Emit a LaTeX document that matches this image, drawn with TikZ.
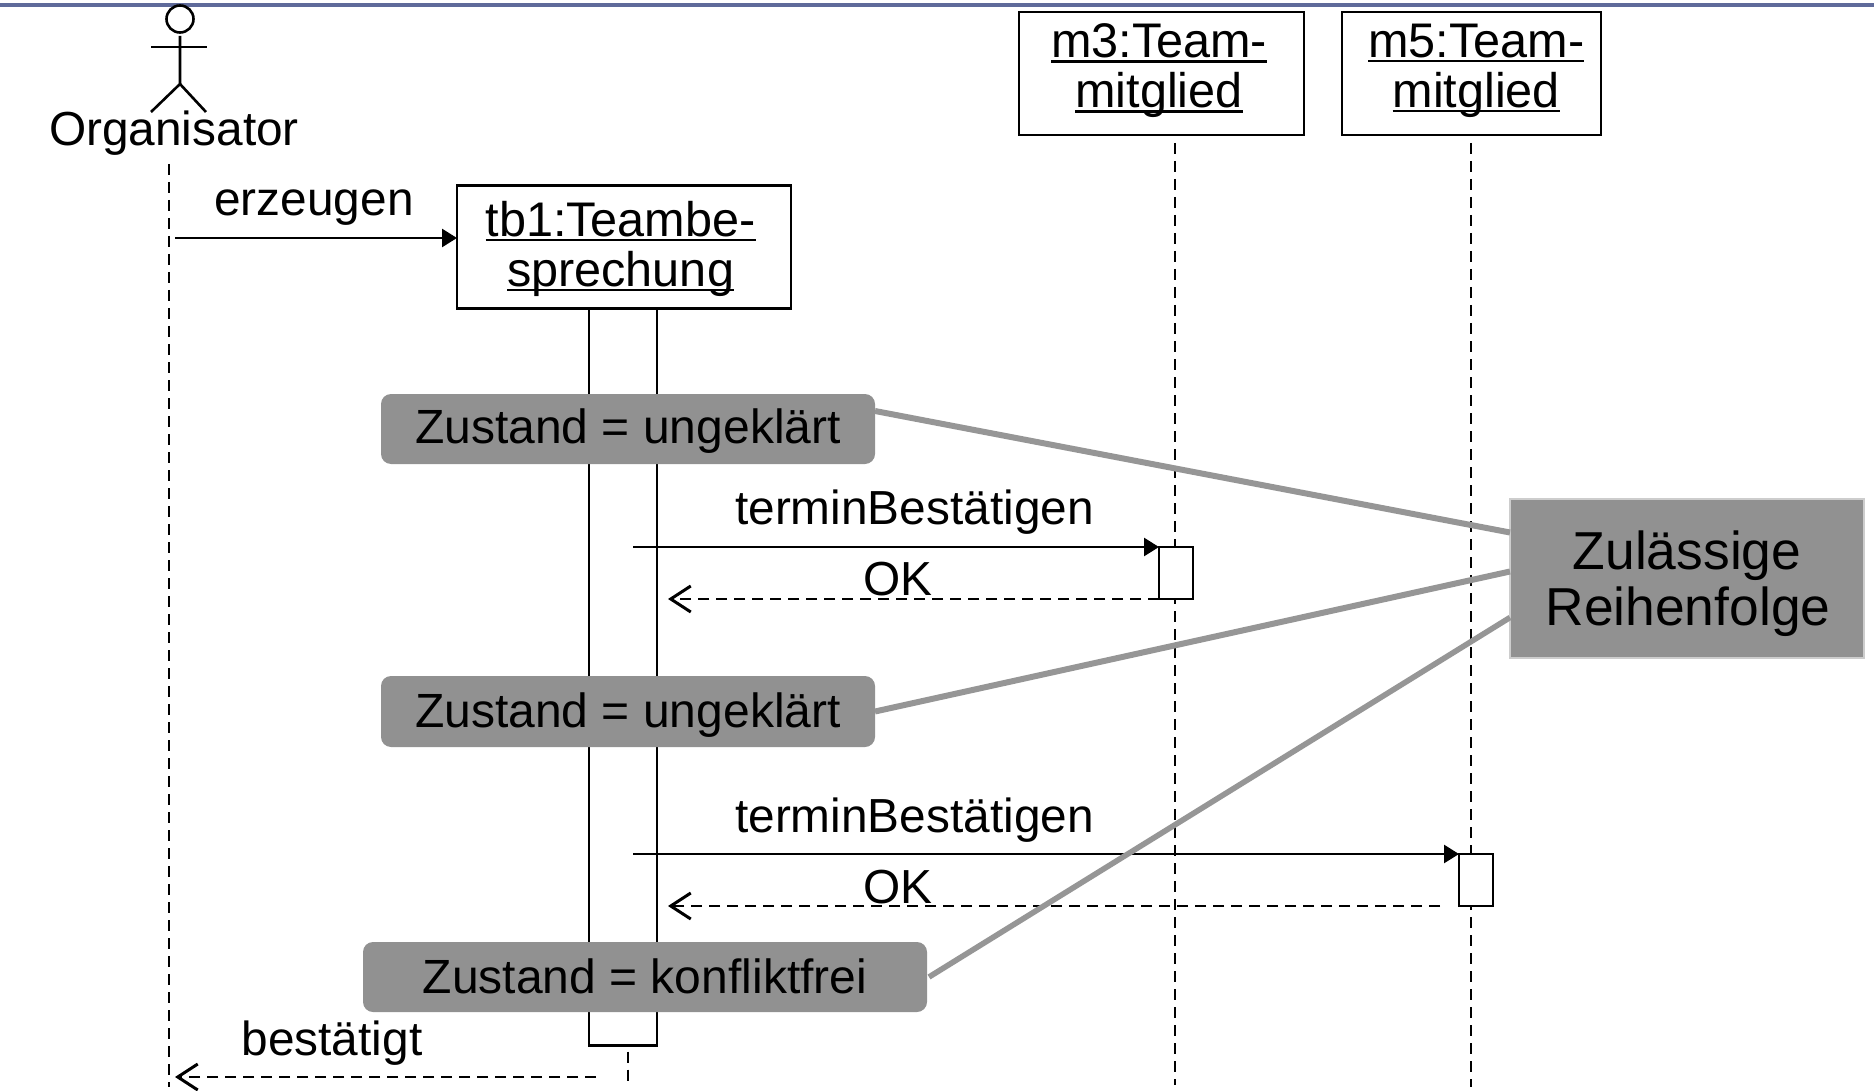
\documentclass[tikz,border=0pt]{standalone}
\usepackage{fontspec}
\setmainfont{Liberation Sans}
\usetikzlibrary{arrows.meta}
\definecolor{stategray}{HTML}{919191}
\definecolor{linkgray}{HTML}{969696}
\definecolor{edgegray}{HTML}{CDCDCD}
\definecolor{topbar}{HTML}{5F6A9A}
\newcommand{\objline}[1]{\setbox0\hbox{#1}\rlap{\rule[-2.3pt]{\wd0}{1.1pt}}\box0}
\tikzset{
    lbl/.style={inner sep=0pt,outer sep=0pt,anchor=base,font=\fontsize{23.9}{25}\selectfont},
    objbox/.style={draw,line width=1.2pt,fill=white,inner sep=0pt,outer sep=0pt,align=center,font=\fontsize{24.3}{25}\selectfont},
    bar/.style={draw,line width=1.2pt,fill=white,inner sep=0pt,outer sep=0pt},
    statebox/.style={fill=stategray,rounded corners=5pt,inner sep=0pt,outer sep=0pt,font=\fontsize{24}{25}\selectfont},
    life/.style={line width=1.2pt,dash pattern=on 5.5pt off 3.5pt},
    call/.style={line width=1.3pt,-{Triangle[length=7.5pt,width=9pt]}},
    answer/.style={line width=1.3pt,dash pattern=on 5.5pt off 3.5pt,-{Straight Barb[length=10pt,width=13pt,line width=1.5pt]}},
    link/.style={linkgray,line width=3pt}
}
\begin{document}
\begin{tikzpicture}[x=0.5pt,y=-0.5pt]
    \useasboundingbox (0,0) rectangle (1874,1091);
    \fill[topbar] (0,3.5) rectangle (1874,7.5);

    \draw[line width=1.3pt] (180,19) circle[radius=13.5];
    \draw[line width=1.3pt] (180,36) -- (180,84) -- (151,112);
    \draw[line width=1.3pt] (180,84) -- (206,112);
    \draw[line width=1.3pt] (151,47) -- (207,47);
    \node[lbl] (organisator) at (174,146) {Organisator};

    \node[objbox,minimum width=167pt,minimum height=61.5pt] (tb1) at (624,247) {\rule{0pt}{19.2pt}\objline{tb1:Teambe-}\hspace*{3.4pt}\\\objline{sprechung}\hspace*{3.4pt}};
    \node[objbox,minimum width=142.5pt,minimum height=61.5pt] (m3) at (1161.5,73.5) {\objline{m3:Team-}\hspace*{2.4pt}\\\rule[-7.5pt]{0pt}{1pt}\objline{mitglied}\hspace*{2.4pt}};
    \node[objbox,minimum width=129.5pt,minimum height=61.5pt] (m5) at (1471.5,73.5) {\hspace*{4.8pt}\objline{m5:Team-}\\\rule[-7.5pt]{0pt}{1pt}\hspace*{4.8pt}\objline{mitglied}};

    \coordinate (orgtop) at (169,164);
    \coordinate (orgend) at (169,1087);
    \coordinate (m3top) at (1175,143);
    \coordinate (m3end) at (1175,1085);
    \coordinate (m5top) at (1471,143);
    \coordinate (m5end) at (1471,1087);
    \coordinate (tb1end) at (628,1085);
    \draw[life] (orgtop) -- (orgend);
    \draw[life] (m3top) -- (m3end);
    \draw[life] (m5top) -- (m5end);

    \node[bar,minimum width=34pt,minimum height=368.5pt] (tb1bar) at (623,677) {};
    \node[bar,minimum width=17pt,minimum height=26pt] (m3bar) at (1176,573) {};
    \node[bar,minimum width=17pt,minimum height=26pt] (m5bar) at (1476,880) {};
    \draw[life,shorten <=3pt] (tb1bar.south -| tb1end) -- (tb1end);

    \coordinate (org1) at (175,238);
    \draw[call] (org1) -- (org1 -| tb1.west);
    \node[lbl] (erzeugen) at (314,216) {erzeugen};

    \coordinate (start1) at (633,547);
    \coordinate (start2) at (633,854);
    \coordinate (ret1) at (668,599);
    \coordinate (ret2) at (668,906);
    \coordinate (ret3) at (175,1077);
    \coordinate (retstart3) at (596,1077);
    \draw[call] (start1) -- (m3bar.north west);
    \draw[answer] (m3bar.south west) -- (ret1);
    \draw[call] (start2) -- (m5bar.north west);
    \draw[answer,shorten <=9.5pt] (m5bar.south west) -- (ret2);
    \draw[answer] (retstart3) -- (ret3);
    \node[lbl] (termin1) at (914.5,524) {terminBestätigen};
    \node[lbl] (ok1) at (898,595) {OK};
    \node[lbl] (termin2) at (914.5,832) {terminBestätigen};
    \node[lbl] (ok2) at (898,903) {OK};
    \node[lbl] (bestaetigt) at (332,1055) {bestätigt};

    \node[statebox,minimum width=247pt,minimum height=35pt,text depth=6.5pt,text height=21.2pt] (state1) at (628,429) {Zustand = ungeklärt};
    \node[statebox,minimum width=247pt,minimum height=35.5pt,text depth=6.5pt,text height=22.4pt] (state2) at (628,711.5) {Zustand = ungeklärt};
    \node[statebox,minimum width=282pt,minimum height=35pt,text depth=5.5pt,text height=22.4pt] (state3) at (645,977) {Zustand = konfliktfrei};

    \node[draw=edgegray,fill=stategray,line width=1.25pt,inner sep=0pt,outer sep=0pt,align=center,minimum width=177pt,minimum height=79.5pt,font=\fontsize{26.7}{28}\selectfont] (order) at (1687,578.5) {\rule{0pt}{25pt}Zulässige\\\hspace*{1pt}Reihenfolge};

    \draw[link] ([yshift=9pt]state1.east) -- ([yshift=23pt]order.west);
    \draw[link] (state2.east) -- ([yshift=3.5pt]order.west);
    \draw[link,line width=2.8pt] ([xshift=1pt]state3.east) -- ([yshift=-19.5pt]order.west);
\end{tikzpicture}
\end{document}
